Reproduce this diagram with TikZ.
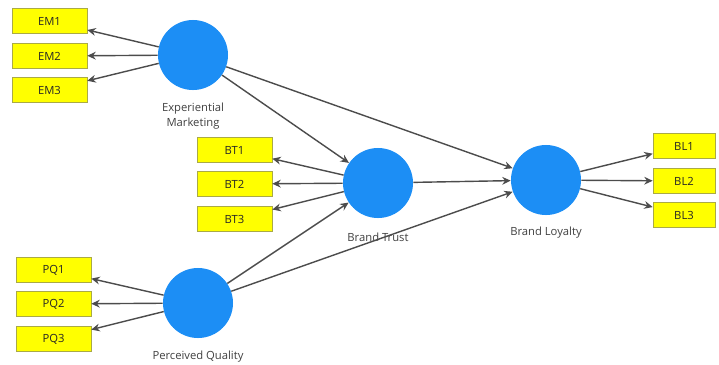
\documentclass[tikz,border=0pt]{standalone}
\usepackage{fontspec}
\setmainfont{Open Sans}
\usetikzlibrary{arrows.meta}
\definecolor{lvblue}{RGB}{28,142,245}
\definecolor{indyellow}{RGB}{255,255,0}
\definecolor{indborder}{RGB}{170,170,70}
\tikzset{
  lv/.style={circle,fill=lvblue,minimum size=1.75cm,inner sep=0pt},
  ind/.style={rectangle,fill=indyellow,draw=indborder,line width=0.4pt,
    minimum width=1.875cm,minimum height=0.625cm,inner sep=0pt,
    font=\fontsize{8}{9}\selectfont,text=black!85},
  lbl/.style={align=center,font=\fontsize{8}{10.5}\selectfont,text=black!75}
}
\begin{document}
\begin{tikzpicture}[x=0.025cm,y=-0.025cm]
      \useasboundingbox (0,0) rectangle (719,364);
      \draw
        (193,55) node[lv] (em){}
        (378,183) node[lv] (bt){}
        (198,303) node[lv] (pq){}
        (546,180) node[lv] (bl){}
        (49.5,21) node[ind] (em1){EM1}
        (49.5,56) node[ind] (em2){EM2}
        (49.5,90) node[ind] (em3){EM3}
        (234.5,150) node[ind] (bt1){BT1}
        (234.5,184) node[ind] (bt2){BT2}
        (234.5,219) node[ind] (bt3){BT3}
        (53.5,270) node[ind] (pq1){PQ1}
        (53.5,304) node[ind] (pq2){PQ2}
        (53.5,339) node[ind] (pq3){PQ3}
        (684,146) node[ind,minimum width=1.55cm] (bl1){BL1}
        (684,181) node[ind,minimum width=1.55cm] (bl2){BL2}
        (684,215) node[ind,minimum width=1.55cm] (bl3){BL3}
        (193,116) node[lbl] (emlbl){Experiential\\Marketing}
        (378,237) node[lbl] (btlbl){Brand Trust}
        (198,357) node[lbl] (pqlbl){Perceived Quality}
        (546,233) node[lbl] (bllbl){Brand Loyalty};
      \begin{scope}[-{Stealth[length=6pt,width=5.5pt]},draw=black!70,line width=1pt]
        \draw (em) to (em1);
        \draw (em) to (em2);
        \draw (em) to (em3);
        \draw (bt) to (bt1);
        \draw (bt) to (bt2);
        \draw (bt) to (bt3);
        \draw (pq) to (pq1);
        \draw (pq) to (pq2);
        \draw (pq) to (pq3);
        \draw (bl) to (bl1);
        \draw (bl) to (bl2);
        \draw (bl) to (bl3);
        \draw (em) to (bt);
        \draw (em) to (bl);
        \draw (bt) to (bl);
        \draw (pq) to (bt);
        \draw (pq) to (bl);
      \end{scope}
    \end{tikzpicture}
\end{document}
